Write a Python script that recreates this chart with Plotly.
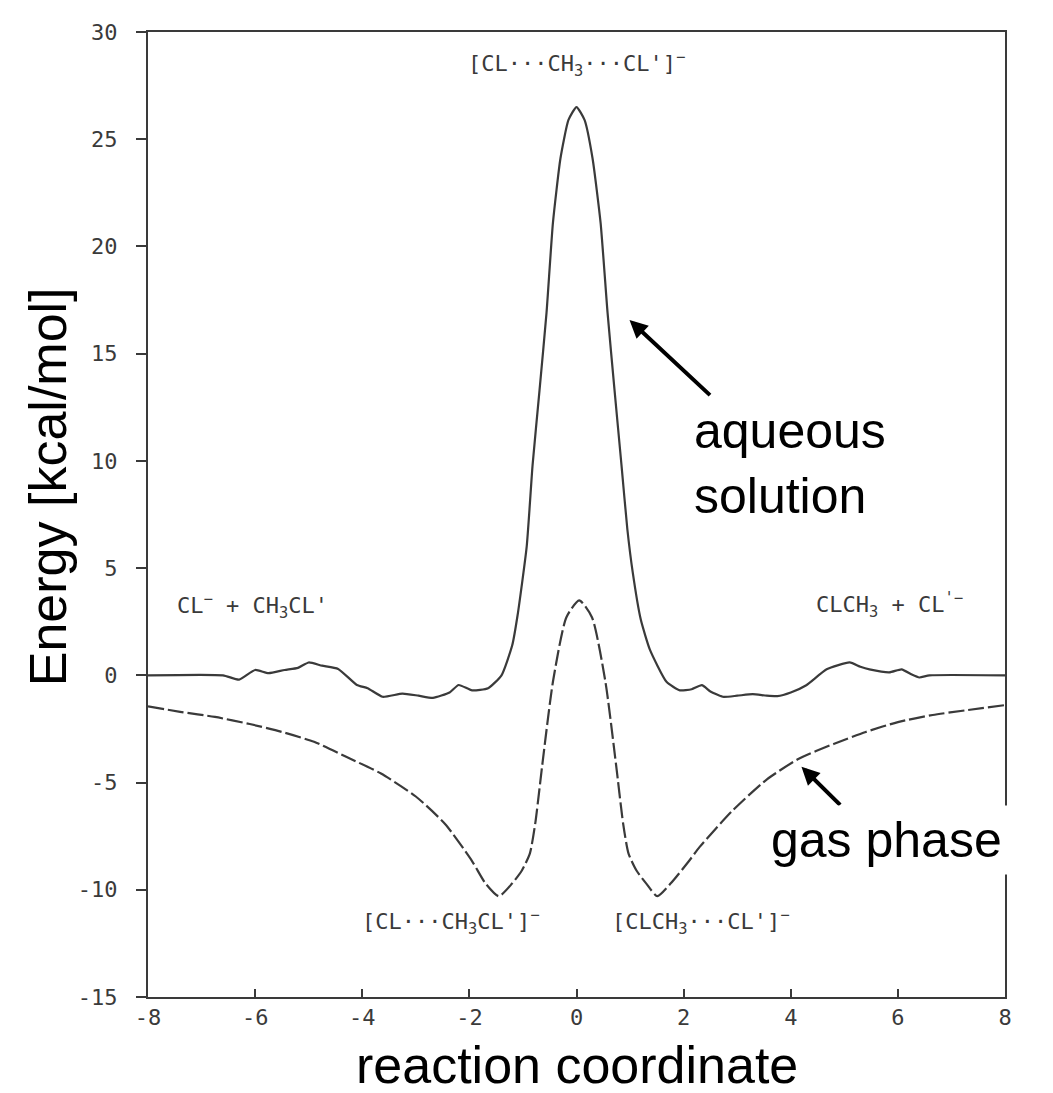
import plotly.graph_objects as go

# energy profile along the reaction coordinate
aq_x = [-8.0, -6.6, -6.3, -6.0, -5.75, -5.45, -5.2, -5.0, -4.75, -4.45, -4.1, -3.9, -3.62, -3.25,
        -2.95, -2.68, -2.37, -2.2, -1.95, -1.65, -1.4, -1.2, -1.1, -0.93, -0.82, -0.69, -0.56,
        -0.44, -0.3, -0.15, 0.0, 0.15, 0.3, 0.45, 0.58, 0.71, 0.84, 0.95, 1.05, 1.2, 1.37, 1.68,
        1.93, 2.15, 2.34, 2.5, 2.73, 3.0, 3.29, 3.55, 3.75, 4.0, 4.29, 4.67, 5.1, 5.3, 5.47, 5.84,
        6.07, 6.25, 6.4, 6.59, 8.0]
aq_y = [0.0, 0.0, -0.2, 0.25, 0.1, 0.25, 0.35, 0.6, 0.45, 0.3, -0.45, -0.6, -1.0, -0.85,
        -0.95, -1.05, -0.8, -0.45, -0.7, -0.6, 0.0, 1.4, 2.8, 6.0, 9.8, 13.3, 16.9,
        21.1, 24.1, 25.9, 26.5, 25.9, 24.1, 21.1, 16.9, 13.3, 9.8, 6.8, 4.8, 2.6, 1.2, -0.3,
        -0.7, -0.65, -0.46, -0.75, -1.0, -0.95, -0.88, -0.95, -0.97, -0.8, -0.46, 0.28, 0.6, 0.4, 0.28, 0.14,
        0.28, 0.05, -0.1, 0.0, 0.0]

gas_x = [-8.0, -7.4, -6.75, -6.1, -5.5, -4.9, -4.3, -3.65, -3.0, -2.45, -1.95, -1.7, -1.45, -1.2,
         -1.02, -0.87, -0.77, -0.64, -0.44, -0.19, 0.05, 0.29, 0.54, 0.74, 0.87, 0.97, 1.12, 1.3,
         1.51, 1.76, 2.1, 2.3, 2.9, 3.55, 4.15, 4.8, 5.4, 6.0, 6.65, 7.3, 8.0]
gas_y = [-1.45, -1.7, -1.94, -2.27, -2.64, -3.1, -3.8, -4.58, -5.65, -6.94, -8.66, -9.7, -10.3, -9.7,
         -9.1, -8.3, -6.9, -4.2, -0.3, 2.7, 3.5, 2.7, -0.3, -4.2, -6.9, -8.3, -9.1, -9.7,
         -10.3, -9.7, -8.66, -8.0, -6.34, -4.86, -3.89, -3.2, -2.64, -2.18, -1.85, -1.62, -1.39]

x_ticks = [-8, -6, -4, -2, 0, 2, 4, 6, 8]
x_ticktext = ["-8", "-6", "-4", "-2", "0", "2", "4", "6", "8"]
y_ticks = [-15, -10, -5, 0, 5, 10, 15, 20, 25, 30]
y_ticktext = ["-15", "-10", "-5", "0", "5", "10", "15", "20", "25", "30"]

INK = "#3a3a3a"
MONO = "DejaVu Sans Mono"
SANS = "Liberation Sans, Arial, Helvetica, sans-serif"

fig = go.Figure()

fig.add_trace(go.Scatter(
    x=aq_x, y=aq_y, mode="lines",
    line=dict(color=INK, width=2.2, shape="spline", smoothing=0.5),
    showlegend=False, hoverinfo="skip"))

fig.add_trace(go.Scatter(
    x=gas_x, y=gas_y, mode="lines",
    line=dict(color=INK, width=2.2, dash="16px,4px", shape="spline", smoothing=0.6),
    showlegend=False, hoverinfo="skip"))

# species labels (plotter style)
species = [
    (0.0, 28.5, "[CL···CH<sub>3</sub>···CL']<sup>−</sup>", "center"),
    (-7.5, 3.24, "CL<sup>−</sup> + CH<sub>3</sub>CL'", "left"),
    (4.44, 3.28, "CLCH<sub>3</sub> + CL<sup>'−</sup>", "left"),
    (-2.35, -11.5, "[CL···CH<sub>3</sub>CL']<sup>−</sup>", "center"),
    (2.32, -11.5, "[CLCH<sub>3</sub>···CL']<sup>−</sup>", "center"),
]
for sx, sy, txt, anc in species:
    fig.add_annotation(x=sx, y=sy, text=txt, showarrow=False, xanchor=anc, yanchor="middle",
                       font=dict(family=MONO, size=22, color=INK))

# callouts
fig.add_annotation(x=0.99, y=16.57, ax=2.52, ay=13.0, axref="x", ayref="y", text="",
                   showarrow=True, arrowhead=2, arrowsize=0.9, arrowwidth=4, arrowcolor="black")
fig.add_annotation(x=2.15, y=9.9, text="aqueous<br>solution", showarrow=False,
                   xanchor="left", yanchor="middle", align="left",
                   font=dict(family=SANS, size=50, color="black"))
fig.add_annotation(x=4.2, y=-4.26, ax=4.95, ay=-6.11, axref="x", ayref="y", text="",
                   showarrow=True, arrowhead=2, arrowsize=0.9, arrowwidth=4, arrowcolor="black")
fig.add_annotation(x=3.5, y=-7.7, text="gas phase", showarrow=False,
                   xanchor="left", yanchor="middle", bgcolor="white", borderpad=6,
                   font=dict(family=SANS, size=50, color="black"))

# axis titles
fig.add_annotation(xref="paper", yref="paper", x=-0.117, y=0.529, text="Energy [kcal/mol]",
                   textangle=-90, showarrow=False, xanchor="center", yanchor="middle",
                   font=dict(family=SANS, size=52, color="black"))
fig.add_annotation(xref="paper", yref="paper", x=0.5, y=-0.07, text="reaction coordinate",
                   showarrow=False, xanchor="center", yanchor="middle",
                   font=dict(family=SANS, size=52, color="black"))

fig.update_xaxes(range=[-8, 8], tickvals=x_ticks, ticktext=x_ticktext,
                 ticks="inside", ticklen=8, tickwidth=2, tickcolor=INK,
                 showline=True, linecolor=INK, linewidth=2, mirror=True,
                 showgrid=False, zeroline=False,
                 tickfont=dict(family=MONO, size=22, color=INK))
fig.update_yaxes(range=[-15, 30], tickvals=y_ticks, ticktext=y_ticktext,
                 ticks="outside", ticklen=10, tickwidth=2, tickcolor=INK,
                 showline=True, linecolor=INK, linewidth=2, mirror=True,
                 showgrid=False, zeroline=False, ticklabelstandoff=14,
                 tickfont=dict(family=MONO, size=22, color=INK))

# the page adds an 8px body margin, so the figure is sized to fit inside the window
fig.update_layout(
    width=1045, height=1085,
    margin=dict(l=140, r=48, t=17, b=96),
    paper_bgcolor="white", plot_bgcolor="white",
    showlegend=False,
)

fig.write_html("out.html")
